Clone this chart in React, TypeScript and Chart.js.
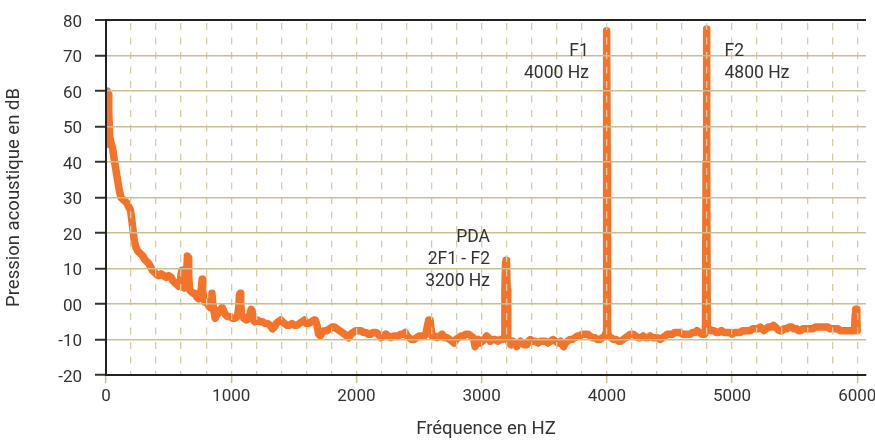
import React, { useEffect, useRef } from "react";
import { Chart, registerables } from "chart.js";

Chart.register(...registerables);

// ---------- data (Hz, dB) ----------
const lowFreqRolloff: [number, number][] = [
  [0, 45], [6, 58], [10, 60], [16, 59], [22, 54], [30, 47], [40, 45.5], [52, 44], [64, 41], [78, 38],
  [92, 35], [106, 32], [120, 30], [135, 29.5], [150, 29], [165, 28.5], [180, 27.5], [195, 26.5], [205, 24],
  [215, 21], [225, 18], [238, 16], [252, 15], [266, 14.5], [280, 14], [295, 13.5], [310, 12.5], [325, 12],
  [340, 11.5], [355, 10.5], [370, 9.5], [385, 9], [400, 8.5], [420, 8], [440, 8.5], [460, 8], [480, 7.5],
  [500, 8], [520, 7.5], [535, 6.5], [550, 6], [565, 5.5], [580, 5], [592, 6], [600, 8.5], [607, 9.5],
  [614, 6], [625, 4.5], [636, 5], [645, 9], [650, 13.5], [655, 13], [660, 8], [668, 4], [680, 3.5],
  [695, 3], [710, 3], [725, 2], [740, 1.5], [755, 2], [763, 5], [768, 7], [773, 4], [780, 1.5], [790, 0.5],
  [805, 0.5], [820, -0.5], [832, -1], [840, 1], [846, 3], [852, 0.5], [862, -2], [872, -4], [885, -3],
  [900, -2.5], [915, -1.5], [928, -1], [940, -2], [955, -3], [970, -3.5], [990, -3.5], [1010, -4],
  [1030, -4], [1050, -3.5], [1060, -1], [1066, 2.5], [1071, 3], [1076, 0], [1084, -3], [1100, -4],
];

const midNoiseFloor: [number, number][] = [
  [1120, -4.5], [1140, -4], [1152, -2.5], [1160, -1.5], [1168, -2], [1176, -4.5], [1190, -5], [1210, -4.5],
  [1230, -5], [1250, -5], [1270, -5.5], [1290, -5.5], [1310, -6], [1330, -7], [1345, -6.5], [1360, -5.5],
  [1375, -5], [1395, -4.5], [1410, -5], [1425, -5.5], [1445, -6], [1465, -6], [1485, -5.5], [1505, -6],
  [1525, -6], [1545, -5.5], [1565, -5], [1585, -4.5], [1600, -5.5], [1620, -5.5], [1640, -5], [1660, -4.5],
  [1672, -4.5], [1685, -6], [1698, -8.5], [1712, -9], [1725, -8], [1745, -7.5], [1765, -7.5], [1785, -7],
  [1805, -6.5], [1825, -6.5], [1845, -7], [1865, -7.5], [1885, -8], [1905, -8.5], [1925, -9], [1940, -9.5],
  [1955, -8.5], [1975, -8], [1995, -7.5], [2015, -7.5], [2035, -7.5], [2055, -8], [2075, -8], [2095, -8.5],
  [2115, -8.5], [2135, -8], [2155, -8], [2175, -8.5], [2195, -9.5], [2215, -9], [2235, -8.5], [2255, -9],
  [2275, -9.5], [2295, -9], [2315, -9], [2335, -9], [2355, -8.5], [2375, -8.5], [2390, -8], [2405, -9],
  [2420, -9.5], [2440, -10], [2460, -10], [2480, -9.5], [2500, -9], [2520, -9], [2540, -9], [2555, -8.5],
  [2568, -6], [2578, -4.5], [2588, -4.5], [2596, -7], [2605, -9], [2625, -9], [2645, -9.5], [2665, -9],
  [2685, -8.5], [2705, -9.5], [2725, -9.5], [2745, -10], [2765, -10.5], [2780, -11], [2795, -10],
  [2815, -9.5], [2835, -9], [2855, -9], [2875, -8.5], [2895, -8.5], [2915, -9], [2935, -9.5], [2948, -12],
  [2960, -10.5], [2975, -10], [2990, -11], [3005, -10.5], [3020, -10], [3040, -9], [3055, -9.5],
  [3070, -10.5], [3090, -10], [3110, -10], [3130, -10.5], [3150, -10], [3168, -10], [3180, -9.5],
];

const pdaRegion: [number, number][] = [
  [3186, 4], [3191, 11.5], [3195, 12.3], [3199, 11.5], [3204, 4], [3209, -9.5], [3220, -11], [3235, -11.5],
  [3250, -10.5], [3265, -11], [3281, -12], [3295, -11], [3310, -10.5], [3325, -11], [3340, -11.5],
  [3360, -11.5], [3375, -10.5], [3390, -10], [3410, -10.5], [3430, -10.5], [3450, -11], [3470, -10.5],
  [3490, -10.5], [3510, -10.5], [3530, -11], [3550, -10.5], [3570, -10], [3590, -10.5], [3610, -11],
  [3630, -10.5], [3645, -11.5], [3655, -12], [3668, -11], [3685, -10.5], [3705, -10], [3725, -10],
  [3745, -9.5], [3765, -9], [3785, -9], [3805, -8.5], [3825, -8.5], [3845, -8.5], [3865, -9], [3885, -9.5],
  [3905, -9.5], [3925, -10], [3945, -10], [3965, -9.5], [3985, -9],
];

const f1Region: [number, number][] = [
  [3994, -8], [3997, 40], [4000, 77], [4003, 40], [4006, -8], [4015, -9], [4035, -9.5], [4055, -10],
  [4075, -10], [4095, -10.5], [4110, -10.5], [4130, -10], [4150, -9.5], [4170, -9], [4190, -8.5],
  [4210, -8.5], [4230, -9], [4250, -9.5], [4270, -9.5], [4290, -9], [4310, -9.5], [4330, -9.5], [4346, -9],
  [4365, -9.5], [4385, -9.5], [4405, -9.5], [4426, -10], [4445, -9.5], [4465, -9], [4485, -8.5],
  [4505, -8.5], [4525, -8.5], [4545, -8], [4565, -8], [4586, -8], [4605, -8.5], [4625, -8.5], [4645, -8.5],
  [4666, -8.5], [4685, -8], [4705, -8], [4720, -7.5], [4740, -8], [4760, -8.5], [4780, -8.5], [4788, -8],
];

const f2Region: [number, number][] = [
  [4790, -8], [4793, 40], [4796, 77.5], [4799, 40], [4802, -7.5], [4815, -7], [4835, -7.5], [4855, -7.5],
  [4875, -8], [4895, -8], [4915, -7.5], [4935, -8], [4958, -8], [4980, -8], [5000, -8.5], [5020, -8],
  [5040, -8], [5065, -8], [5085, -7.5], [5105, -7.5], [5125, -7.5], [5145, -7.5], [5165, -7], [5185, -7],
  [5205, -7], [5225, -6.5], [5240, -7], [5255, -7.5], [5270, -7], [5290, -6.5], [5310, -6.5], [5331, -6],
  [5345, -6.5], [5360, -7], [5380, -7.5], [5398, -7.5], [5415, -7], [5435, -7], [5455, -6.5], [5478, -6.5],
  [5495, -7], [5515, -7], [5530, -7.5], [5545, -7.5], [5565, -7], [5585, -7], [5605, -7], [5625, -7],
  [5645, -7], [5665, -6.5], [5685, -6.5], [5705, -6.5], [5725, -6.5], [5745, -6.5], [5765, -6.5],
  [5785, -7], [5805, -7], [5825, -7], [5845, -7], [5865, -7.5], [5885, -7.5], [5905, -7.5], [5925, -7.5],
  [5945, -7.5], [5965, -7.5], [5978, -7.5],
];

const tailRegion: [number, number][] = [
  [5984, -3], [5988, -1.5], [5993, -1.5], [5997, -4], [6000, -7.5],
];

const yTickLabels: Record<string, string> = {
  "80": "80", "70": "70", "60": "60", "50": "50", "40": "40", "30": "30",
  "20": "20", "10": "10", "0": "00", "-10": "-10", "-20": "-20",
};
const xLabelValues = [0, 1000, 2000, 3000, 4000, 5000, 6000];

const peakLabels = [
  { x: 4000, y: 70, dx: -18, align: "right", lines: ["F1", "4000 Hz"] },
  { x: 4796, y: 70, dx: 18, align: "left", lines: ["F2", "4800 Hz"] },
  { x: 3195, y: 17.5, dx: -16, align: "right", lines: ["PDA", "2F1 - F2", "3200 Hz"] },
];

const xTitle = "Fréquence en HZ";
const yTitle = "Pression acoustique en dB";

const FONT = "Roboto, 'Noto Sans', sans-serif";
const TEXT = "#333333";
const ORANGE = "#f3732a";
const HGRID = "#c9bf93";
const VGRID = "#d6cda6";

const peakLabelPlugin = {
  id: "peakLabels",
  afterDraw(chart: any) {
    const { ctx, scales } = chart;
    const xs = scales.x;
    const ys = scales.y;
    ctx.save();
    ctx.font = `17.5px ${FONT}`;
    ctx.fillStyle = TEXT;
    ctx.textBaseline = "alphabetic";
    for (const a of peakLabels) {
      const px = xs.getPixelForValue(a.x) + a.dx;
      const py = ys.getPixelForValue(a.y);
      ctx.textAlign = a.align;
      a.lines.forEach((t: string, i: number) => ctx.fillText(t, px, py + i * 22));
    }
    ctx.restore();
  },
};

export default function App() {
  const ref = useRef<HTMLCanvasElement | null>(null);

  useEffect(() => {
    if (!ref.current) return;
    const points = [
      ...lowFreqRolloff, ...midNoiseFloor, ...pdaRegion, ...f1Region, ...f2Region, ...tailRegion,
    ].map(([x, y]) => ({ x, y }));

    const chart = new Chart(ref.current, {
      type: "line",
      data: {
        datasets: [
          {
            data: points,
            borderColor: ORANGE,
            borderWidth: 7.5,
            pointRadius: 0,
            tension: 0,
            borderCapStyle: "round",
            borderJoinStyle: "round",
            fill: false,
            clip: { left: 0, top: 20, right: 10, bottom: 10 },
          } as any,
        ],
      },
      options: {
        animation: false,
        responsive: false,
        devicePixelRatio: 1,
        layout: { padding: { top: 20, right: 9, left: 0, bottom: 0 } },
        plugins: { legend: { display: false }, tooltip: { enabled: false } },
        scales: {
          x: {
            type: "linear",
            min: 0,
            max: 6070,
            afterFit: (s: any) => {
              s.height = 65;
              s.paddingLeft = 0;
              s.paddingRight = 0;
            },
            ticks: {
              stepSize: 200,
              includeBounds: false,
              autoSkip: false,
              maxRotation: 0,
              padding: 4,
              color: TEXT,
              font: { family: FONT, size: 17 },
              callback: (v: any) => (xLabelValues.includes(Number(v)) ? String(v) : ""),
            },
            grid: {
              z: 1,
              color: (c: any) => (c.tick && c.tick.value === 0 ? "rgba(0,0,0,0)" : VGRID),
              lineWidth: 1.3,
              tickColor: (c: any) => (c.tick && c.tick.value % 1000 === 0 ? HGRID : "rgba(0,0,0,0)"),
              tickLength: 8,
              tickWidth: 1.5,
            },
            border: { display: true, color: "#222", width: 2, dash: [7, 7.5], dashOffset: 11.5, z: 2 },
            title: {
              display: true,
              text: xTitle,
              color: TEXT,
              font: { family: FONT, size: 18.5 },
              padding: { top: 0, bottom: 0 },
            },
          },
          y: {
            type: "linear",
            min: -20,
            max: 80,
            afterFit: (s: any) => {
              s.width = 106;
              s.paddingTop = 0;
              s.paddingBottom = 0;
            },
            ticks: {
              stepSize: 10,
              padding: 13,
              labelOffset: 2.5,
              color: TEXT,
              font: { family: FONT, size: 17 },
              callback: (v: any) => yTickLabels[String(v)] ?? "",
            },
            grid: {
              z: 1,
              color: (c: any) =>
                c.tick && c.tick.value === 80 ? "#222" : c.tick && c.tick.value === -20 ? "rgba(0,0,0,0)" : HGRID,
              lineWidth: (c: any) => (c.tick && c.tick.value === 80 ? 2 : 1.5),
              tickColor: "#333",
              tickLength: 11,
              tickWidth: 2,
            },
            border: { display: true, color: "#222", width: 2, z: 2 },
            title: {
              display: true,
              text: yTitle,
              color: TEXT,
              font: { family: FONT, size: 18.5 },
              padding: { top: 3, bottom: 0 },
            },
          },
        },
      } as any,
      plugins: [peakLabelPlugin],
    });
    return () => chart.destroy();
  }, []);

  return (
    <div style={{ position: "fixed", left: 0, top: 0, width: 875, height: 440, background: "#fff" }}>
      <canvas ref={ref} width={875} height={440} style={{ width: 875, height: 440 }} />
    </div>
  );
}
